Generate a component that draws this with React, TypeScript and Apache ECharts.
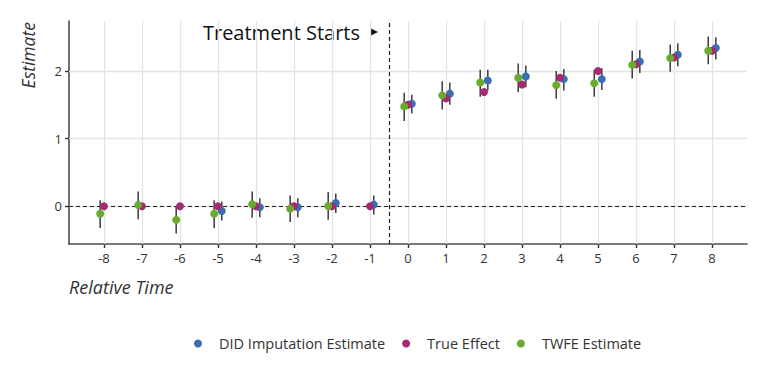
import React, { useEffect, useRef } from "react";
import * as echarts from "echarts";

const times = [-8, -7, -6, -5, -4, -3, -2, -1, 0, 1, 2, 3, 4, 5, 6, 7, 8];
const yTicks = [0, 1, 2];

const didEst = [null, null, null, -0.07, -0.015, -0.015, 0.05, 0.025, 1.515, 1.665, 1.86, 1.92, 1.88, 1.88, 2.14, 2.24, 2.34];
const didLo = [null, null, null, -0.21, -0.16, -0.16, -0.1, -0.12, 1.37, 1.5, 1.71, 1.76, 1.71, 1.72, 1.97, 2.07, 2.17];
const didHi = [null, null, null, 0.07, 0.12, 0.12, 0.19, 0.16, 1.65, 1.83, 2.02, 2.08, 2.03, 2.04, 2.31, 2.41, 2.5];

const trueEffect = [0, 0, 0, 0, 0, 0, 0, 0, 1.5, 1.595, 1.69, 1.8, 1.9, 2.0, 2.1, 2.2, 2.3];

const twfeEst = [-0.11, 0.02, -0.2, -0.11, 0.03, -0.035, 0.005, null, 1.477, 1.64, 1.83, 1.9, 1.79, 1.82, 2.09, 2.19, 2.3];
const twfeLo = [-0.32, -0.19, -0.4, -0.32, -0.17, -0.23, -0.2, null, 1.26, 1.43, 1.62, 1.69, 1.59, 1.62, 1.89, 1.99, 2.1];
const twfeHi = [0.09, 0.22, -0.01, 0.09, 0.22, 0.16, 0.21, null, 1.68, 1.85, 2.02, 2.11, 2.0, 2.02, 2.3, 2.39, 2.51];

const treatmentStart = -0.5;
const DODGE = 0.1;

const COLORS = { did: "#3a6fb0", truth: "#a52a72", twfe: "#6aaa2f" };
const FONT = "'Open Sans'";

function points(vals: (number | null)[], off: number) {
  const out: number[][] = [];
  vals.forEach((v, i) => {
    if (v !== null) out.push([times[i] + off, v]);
  });
  return out;
}
function bars(lo: (number | null)[], hi: (number | null)[], off: number) {
  const out: number[][] = [];
  lo.forEach((l, i) => {
    const h = hi[i];
    if (l !== null && h !== null) out.push([times[i] + off, l, h]);
  });
  return out;
}

const errRender = (params: any, api: any) => {
  const a = api.coord([api.value(0), api.value(1)]);
  const b = api.coord([api.value(0), api.value(2)]);
  return {
    type: "line",
    shape: { x1: a[0], y1: a[1], x2: b[0], y2: b[1] },
    style: { stroke: "#3b3b3b", lineWidth: 1.5 },
  };
};

export default function App() {
  const ref = useRef<HTMLDivElement>(null);
  useEffect(() => {
    const chart = echarts.init(ref.current!, null, { renderer: "svg" });
    const option: any = {
      animation: false,
      textStyle: { fontFamily: FONT },
      grid: { left: 69, right: 21, top: 21, bottom: 140, containLabel: false },
      xAxis: {
        type: "value",
        min: -8.92,
        max: 8.92,
        splitLine: { show: false },
        axisLine: { show: true, onZero: false, lineStyle: { color: "#4d4d4d", width: 1.6 } },
        axisTick: { show: true, customValues: times, length: 4, lineStyle: { color: "#333", width: 1.4 } },
        axisLabel: { customValues: times, color: "#333", fontSize: 13, fontFamily: FONT, margin: 7 },
      },
      yAxis: {
        type: "value",
        min: -0.557,
        max: 2.739,
        splitLine: { show: false },
        axisLine: { show: true, onZero: false, lineStyle: { color: "#4d4d4d", width: 1.6 } },
        axisTick: { show: true, customValues: yTicks, length: 4, lineStyle: { color: "#333", width: 1.4 } },
        axisLabel: { customValues: yTicks, color: "#333", fontSize: 13, fontFamily: FONT, margin: 7 },
      },
      legend: {
        data: ["DID Imputation Estimate", "True Effect", "TWFE Estimate"],
        left: 189,
        top: 331,
        icon: "circle",
        itemWidth: 8,
        itemHeight: 8,
        itemGap: 17,
        textStyle: { fontSize: 14.5, color: "#333", fontFamily: FONT, padding: [0, 0, 0, 12] },
      },
      graphic: [
        {
          type: "text",
          x: 28,
          y: 22,
          rotation: Math.PI / 2,
          style: {
            text: "Estimate",
            font: `italic 17.5px ${FONT}`,
            fill: "#333",
            align: "right",
            verticalAlign: "middle",
          },
        },
        {
          type: "text",
          x: 69,
          y: 287,
          style: {
            text: "Relative Time",
            font: `italic 18px ${FONT}`,
            fill: "#333",
            align: "left",
            verticalAlign: "middle",
          },
        },
        {
          type: "text",
          x: 360,
          y: 32,
          style: {
            text: "Treatment Starts",
            font: `20px ${FONT}`,
            fill: "#111",
            align: "right",
            verticalAlign: "middle",
          },
        },
        {
          type: "polygon",
          shape: { points: [[370, 28], [378, 32], [370, 36]] },
          style: { fill: "#111" },
        },
      ],
      series: [
        {
          type: "line",
          name: "grid",
          data: [],
          z: 1,
          silent: true,
          markLine: {
            silent: true,
            z: 1,
            symbol: "none",
            label: { show: false },
            lineStyle: { color: "#e3e3e3", width: 1.3, type: "solid" },
            data: [
              ...times.map((t) => ({ xAxis: t })),
              ...yTicks.map((v) => ({ yAxis: v })),
            ],
          },
        },
        {
          type: "line",
          name: "refs",
          data: [],
          z: 2,
          silent: true,
          markLine: {
            silent: true,
            z: 2,
            symbol: "none",
            label: { show: false },
            lineStyle: { color: "#222", width: 1.2, type: [4, 3] },
            data: [{ xAxis: treatmentStart }, { yAxis: 0 }],
          },
        },
        {
          type: "custom",
          name: "DID bars",
          renderItem: errRender,
          data: bars(didLo, didHi, DODGE),
          encode: { x: 0, y: [1, 2] },
          z: 3,
          silent: true,
        },
        {
          type: "custom",
          name: "TWFE bars",
          renderItem: errRender,
          data: bars(twfeLo, twfeHi, -DODGE),
          encode: { x: 0, y: [1, 2] },
          z: 3,
          silent: true,
        },
        {
          type: "scatter",
          name: "DID Imputation Estimate",
          data: points(didEst, DODGE),
          symbolSize: 8,
          itemStyle: { color: COLORS.did, opacity: 1 },
          z: 4,
        },
        {
          type: "scatter",
          name: "True Effect",
          data: points(trueEffect, 0),
          symbolSize: 8,
          itemStyle: { color: COLORS.truth, opacity: 1 },
          z: 4,
        },
        {
          type: "scatter",
          name: "TWFE Estimate",
          data: points(twfeEst, -DODGE),
          symbolSize: 8,
          itemStyle: { color: COLORS.twfe, opacity: 1 },
          z: 4,
        },
      ],
    };
    chart.setOption(option);
    return () => chart.dispose();
  }, []);
  return <div ref={ref} style={{ width: 768, height: 384, position: "absolute", left: 0, top: 0 }} />;
}
